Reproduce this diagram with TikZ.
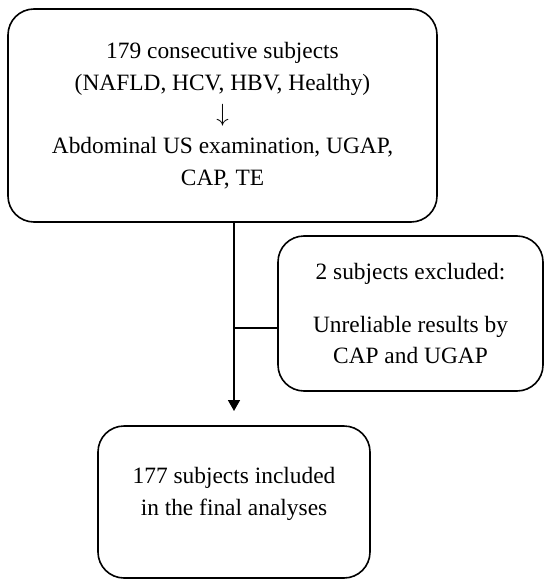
\documentclass[tikz,border=0pt]{standalone}
\usepackage{fontspec}
\setmainfont{Liberation Serif}
\usetikzlibrary{arrows.meta}
\tikzset{
  flowbox/.style={draw=black, line width=1.6pt, rounded corners=26pt, align=center, inner sep=0pt,
    font=\fontsize{23.4}{31.8}\selectfont},
  link/.style={line width=1.6pt},
  linkarrow/.style={line width=1.6pt, -{Triangle[length=11pt,width=12pt]}}
}
\begin{document}
\begin{tikzpicture}[x=1pt,y=-1pt]
\useasboundingbox (0,0) rectangle (544,580);
\node[flowbox, minimum width=429pt, minimum height=213pt] (top) at (222.5,115.5)
  {179 consecutive subjects\\(NAFLD, HCV, HBV, Healthy)\\$\downarrow$\\Abdominal US examination, UGAP,\\CAP, TE};
\node[flowbox, minimum width=265pt, minimum height=155pt] (side) at (410.5,313.5)
  {2 subjects excluded:\\[21pt]Unreliable results by\\CAP and UGAP};
\node[flowbox, minimum width=272pt, minimum height=152pt, text depth=22pt] (bot) at (234,502)
  {177 subjects included\\in the final analyses};
\coordinate (tip) at (234,411);
\coordinate (branch) at (234,328);
\draw[linkarrow] (top.south -| bot.north) -- (tip);
\draw[link] (branch) -- (branch -| side.west);
\end{tikzpicture}
\end{document}
